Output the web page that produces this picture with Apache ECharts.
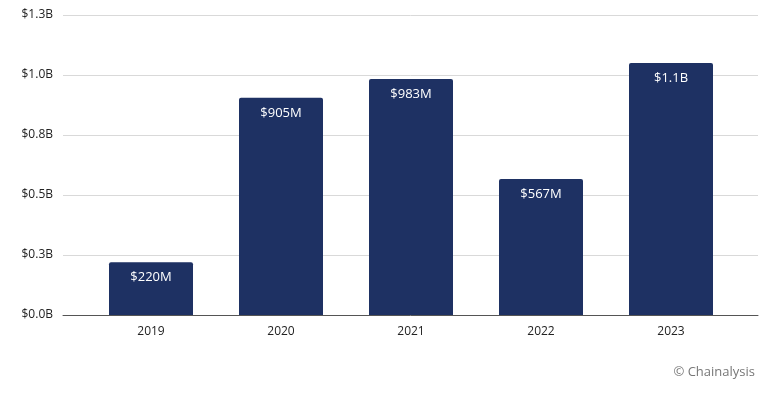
<!DOCTYPE html>
<html>
<head>
<meta charset="utf-8">
<script src="https://cdn.jsdelivr.net/npm/echarts@6/dist/echarts.min.js"></script>
<style>
html,body{margin:0;padding:0;background:#fff;}
#c{width:767px;height:395px;}
</style>
</head>
<body>
<div id="c"></div>
<script>
var categories = ['2019', '2020', '2021', '2022', '2023'];
var values = [0.22, 0.905, 0.983, 0.567, 1.05]; // billions USD
var yTicks = [0, 0.25, 0.5, 0.75, 1.0, 1.25];

var chart = echarts.init(document.getElementById('c'), null, {renderer: 'canvas'});
var font = 'Open Sans, Noto Sans, sans-serif';
function fmtBar(v) {
  return v < 1 ? '$' + Math.round(v * 1000) + 'M' : '$' + v.toFixed(1) + 'B';
}
chart.setOption({
  animation: false,
  backgroundColor: '#fff',
  grid: [
    {left: 63, right: 9, top: 15, bottom: 80, containLabel: false},
    {left: 86, right: 31, top: 15, bottom: 80, containLabel: false}
  ],
  xAxis: [
    {gridIndex: 0, type: 'category', data: categories, axisLine: {show: true, lineStyle: {color: '#555', width: 1}},
     axisTick: {show: false}, axisLabel: {show: false}},
    {gridIndex: 1, type: 'category', data: categories, axisLine: {show: false}, axisTick: {show: false},
     axisLabel: {color: '#222', fontSize: 12, fontFamily: font, margin: 11}}
  ],
  yAxis: [
    {gridIndex: 0, type: 'value', min: yTicks[0], max: yTicks[yTicks.length - 1], interval: 0.25,
     axisLine: {show: false}, axisTick: {show: false},
     splitLine: {lineStyle: {color: '#d9d9d9', width: 1}},
     axisLabel: {color: '#222', fontSize: 12, fontFamily: font, margin: 10,
       formatter: function (v) { return '$' + v.toFixed(1) + 'B'; }}},
    {gridIndex: 1, type: 'value', min: yTicks[0], max: yTicks[yTicks.length - 1], interval: 0.25,
     show: false, splitLine: {show: false}}
  ],
  series: [{
    type: 'bar',
    xAxisIndex: 1, yAxisIndex: 1,
    data: values,
    barWidth: 84,
    itemStyle: {color: '#1e3163', borderRadius: [2, 2, 0, 0]},
    label: {show: true, position: 'insideTop', distance: 9, color: '#fff', fontSize: 13, fontFamily: font,
      formatter: function (p) { return fmtBar(p.value); }}
  }],
  graphic: [{
    type: 'text', right: 12, top: 366,
    style: {text: '© Chainalysis', fill: '#777', fontSize: 13, fontFamily: font}
  }]
});
</script>
</body>
</html>
